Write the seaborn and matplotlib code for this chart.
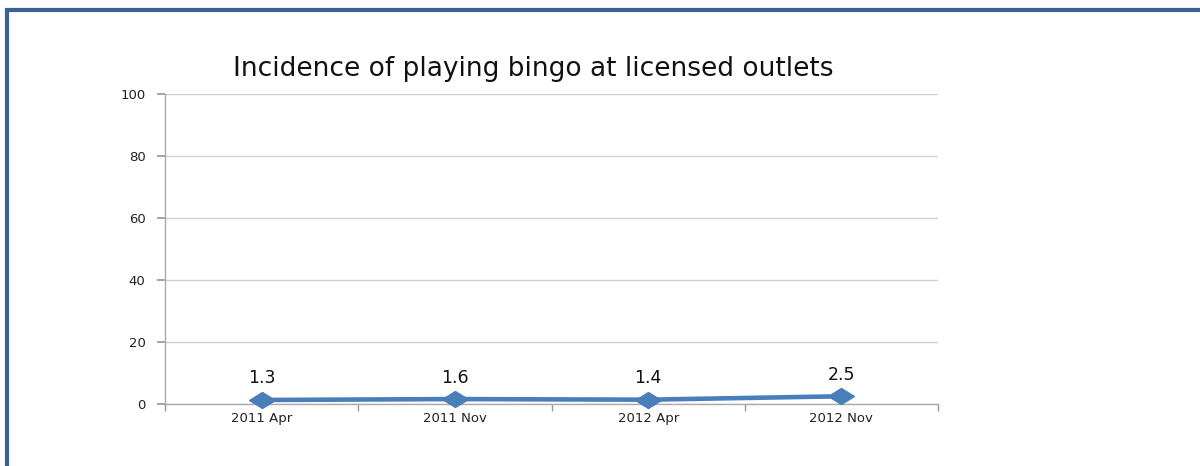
import matplotlib
matplotlib.use("Agg")
import matplotlib.pyplot as plt
import seaborn as sns
import pandas as pd
from matplotlib.patches import Rectangle

periods = ["2011 Apr", "2011 Nov", "2012 Apr", "2012 Nov"]
incidence = [1.3, 1.6, 1.4, 2.5]
y_ticks = [0, 20, 40, 60, 80, 100]
title = "Incidence of playing bingo at licensed outlets"

sns.set_theme(style="white")
plt.rcParams["font.family"] = ["DejaVu Sans"]

df = pd.DataFrame({"period": periods, "value": incidence})
df["pos"] = range(len(periods))

fig = plt.figure(figsize=(12, 4.66), dpi=100)
ax = fig.add_axes([0.1375, 0.133, 0.6442, 0.6652])

line_color = "#4A7EBB"
# flattened diamond marker
diamond = [(-1, 0), (0, 0.62), (1, 0), (0, -0.62), (-1, 0)]
sns.lineplot(data=df, x="pos", y="value", ax=ax, color=line_color,
             linewidth=3.3, marker=diamond, markersize=19,
             markeredgecolor=line_color, markerfacecolor=line_color)
for ln in ax.lines:
    ln.set_clip_on(False)
    ln.set_zorder(5)

for x, v in zip(df["pos"], df["value"]):
    ax.annotate(f"{v}", (x, v), xytext=(0, 9), textcoords="offset points",
                ha="center", va="bottom", fontsize=12.5, color="#111111")

ax.set_xlim(-0.5, len(periods) - 0.5)
ax.set_ylim(0, 100)
ax.set_yticks(y_ticks)
ax.set_yticklabels([str(t) for t in y_ticks], fontsize=9.5, color="#222222")
ax.set_xticks(df["pos"])
ax.set_xticklabels(periods, fontsize=9.5, color="#222222")
ax.set_xticks([i + 0.5 for i in range(-1, len(periods))], minor=True)
ax.tick_params(axis="x", which="major", length=0, pad=6)
ax.tick_params(axis="x", which="minor", length=5, color="#999999", direction="out", bottom=True)
ax.tick_params(axis="y", length=6, color="#999999", direction="out", left=True, pad=8)
ax.yaxis.grid(True, color="#D0D0D0", linewidth=1)
ax.set_axisbelow(True)
for side in ["top", "right"]:
    ax.spines[side].set_visible(False)
for side in ["left", "bottom"]:
    ax.spines[side].set_color("#AAAAAA")
    ax.spines[side].set_linewidth(1)
ax.set_xlabel("")
ax.set_ylabel("")

fig.text(0.444, 0.851, title, ha="center", va="center", fontsize=19, color="#111111")

# frame around the chart area
frame = Rectangle((7 / 1200, -0.05), 1.1, 1 - 10 / 466 + 0.05, transform=fig.transFigure,
                  fill=False, edgecolor="#3A6294", linewidth=3, clip_on=False)
fig.patches.append(frame)

fig.savefig("out.png", dpi=100)
